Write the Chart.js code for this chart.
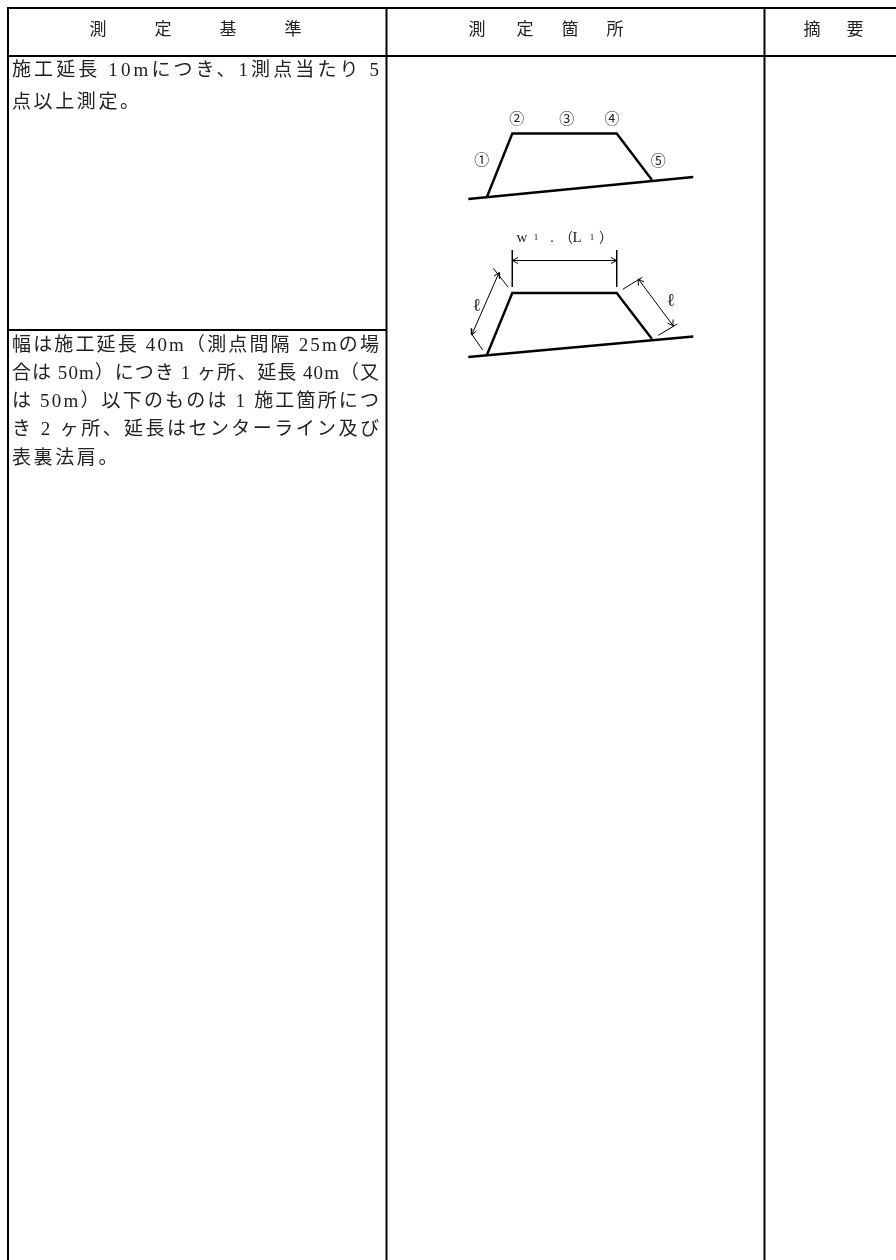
<!DOCTYPE html>
<html lang="ja">
<head>
<meta charset="utf-8">
<title>測定基準</title>
<script src="https://cdn.jsdelivr.net/npm/chart.js@4"></script>
<style>
    html, body { margin: 0; padding: 0; background: #fff; }
    canvas { display: block; }
</style>
</head>
<body>
<canvas id="tablaChart" width="896" height="1260"></canvas>
<script>
// Table rules, as [x, y] pairs on the sheet scale
const ruleTop = [[7, 8], [896, 8]];
const ruleHeader = [[7, 56], [896, 56]];
const ruleLeft = [[8, 8], [8, 1260]];
const ruleCol1 = [[386.5, 8], [386.5, 1260]];
const ruleCol2 = [[764.5, 8], [764.5, 1260]];
const ruleRow = [[8, 330], [386.5, 330]];

// Upper embankment section
const bankUpper = [[486.7, 197.5], [512.3, 133.5], [616.7, 133.5], [652, 180]];
const groundUpper = [[468.3, 199], [693.3, 177]];

// Lower embankment section
const bankLower = [[486.7, 355.5], [512.3, 293], [616.7, 293], [652, 339]];
const groundLower = [[468.3, 357], [693.3, 336.5]];

// Dimension lines
const extWidthL = [[512.3, 250], [512.3, 287]];
const extWidthR = [[616.7, 250], [616.7, 287]];
const dimWidth = [[512.3, 260.5], [616.7, 260.5]];
const arrowWidthL = [[518, 257.5], [512.3, 260.5], [518, 263.5]];
const arrowWidthR = [[611, 257.5], [616.7, 260.5], [611, 263.5]];
const extLeftTop = [[493.3, 268.3], [508.3, 287.3]];
const extLeftBottom = [[470.7, 332.7], [482.7, 350]];
const dimLeft = [[499, 272.7], [471.7, 335]];
const arrowLeftTop = [[494, 276], [499, 272.7], [499.5, 279]];
const arrowLeftBottom = [[471, 328.5], [471.7, 335], [476.5, 331]];
const extRightTop = [[622.7, 289.3], [642.3, 277.3]];
const extRightBottom = [[658.3, 335.3], [677.3, 324]];
const dimRight = [[638.3, 279], [673.3, 326]];
const arrowRightTop = [[638, 285.5], [638.3, 279], [644, 282]];
const arrowRightBottom = [[667.5, 323], [673.3, 326], [673, 319.5]];

const linesThick = [bankUpper, groundUpper, bankLower, groundLower];
const linesFrame = [ruleTop, ruleHeader, ruleLeft, ruleCol1, ruleCol2, ruleRow];
const linesThin = [
    extWidthL, extWidthR, dimWidth, arrowWidthL, arrowWidthR,
    extLeftTop, extLeftBottom, dimLeft, arrowLeftTop, arrowLeftBottom,
    extRightTop, extRightBottom, dimRight, arrowRightTop, arrowRightBottom
];

// Texts
const headerChars = ['測', '定', '基', '準', '測', '定', '箇', '所', '摘', '要'];
const headerX = [98, 163, 228, 293, 477, 525, 570, 615, 812, 855];

const block1 = ['施工延長 10mにつき、1測点当たり 5', '点以上測定。'];
const block1Y = [71, 103];
const block2 = [
    '幅は施工延長 40m（測点間隔 25mの場',
    '合は 50m）につき 1 ヶ所、延長 40m（又',
    'は 50m）以下のものは 1 施工箇所につ',
    'き 2 ヶ所、延長はセンターライン及び',
    '表裏法肩。'
];
const block2Y = [346, 374, 402, 430, 459];

const circled = ['①', '②', '③', '④', '⑤'];
const circledPos = [[481.7, 161], [516.7, 120], [566.7, 120], [612, 120], [658.3, 162.5]];

const dimChars = ['w', '1', '.', '（', 'L', '1', '）'];
const dimCharsX = [522, 536, 552, 566, 577, 592, 606];
const dimCharsSize = [15, 9, 14, 14, 15, 9, 14];
const ellPos = [[476.7, 306], [670.7, 301]];

const SERIF = '"Liberation Serif", "Noto Sans CJK JP"';
const MARGIN_X = 12;
const FULL_WIDTH = 367;

function toPoints(line) {
    return line.map(function(p) { return { x: p[0], y: p[1] }; });
}

function lineSet(line, width) {
    return {
        data: toPoints(line),
        showLine: true,
        borderColor: '#000',
        borderWidth: width,
        pointRadius: 0,
        fill: false,
        tension: 0
    };
}

// Draws the table and diagram text in sheet coordinates
const textPlugin = {
    id: 'sheetText',
    afterDatasetsDraw: function(chart) {
        const ctx = chart.ctx;
        const sx = chart.scales.x;
        const sy = chart.scales.y;

        function put(text, x, y, size, align) {
            ctx.font = size + 'px ' + SERIF;
            ctx.textAlign = align || 'center';
            ctx.fillText(text, sx.getPixelForValue(x), sy.getPixelForValue(y));
        }

        // Stretch a body line to the column width
        function putFitted(text, y, fit) {
            ctx.font = '19px ' + SERIF;
            ctx.letterSpacing = '0px';
            const natural = ctx.measureText(text).width;
            const gap = fit ? (FULL_WIDTH - natural) / (text.length - 1) : 2.6;
            ctx.letterSpacing = gap + 'px';
            put(text, MARGIN_X, y, 19, 'left');
            ctx.letterSpacing = '0px';
        }

        ctx.save();
        ctx.fillStyle = '#222';
        ctx.textBaseline = 'middle';

        headerChars.forEach(function(c, i) { put(c, headerX[i], 31, 17); });

        block1.forEach(function(t, i) { putFitted(t, block1Y[i], i === 0); });
        block2.forEach(function(t, i) { putFitted(t, block2Y[i], i < block2.length - 1); });

        circled.forEach(function(c, i) { put(c, circledPos[i][0], circledPos[i][1], 15); });
        dimChars.forEach(function(c, i) { put(c, dimCharsX[i], 238, dimCharsSize[i]); });
        ellPos.forEach(function(p) { put('ℓ', p[0], p[1], 18); });
        ctx.restore();
    }
};

document.addEventListener('DOMContentLoaded', function() {
    const datasets = []
        .concat(linesFrame.map(function(l) { return lineSet(l, 2); }))
        .concat(linesThick.map(function(l) { return lineSet(l, 2.4); }))
        .concat(linesThin.map(function(l) { return lineSet(l, 1); }));

    new Chart(document.getElementById('tablaChart'), {
        type: 'scatter',
        data: { datasets: datasets },
        plugins: [textPlugin],
        options: {
            responsive: false,
            animation: false,
            layout: { padding: 0 },
            plugins: { legend: { display: false }, tooltip: { enabled: false } },
            scales: {
                x: { type: 'linear', min: 0, max: 896, display: false },
                y: { type: 'linear', min: 0, max: 1260, reverse: true, display: false }
            }
        }
    });
});
</script>
</body>
</html>
